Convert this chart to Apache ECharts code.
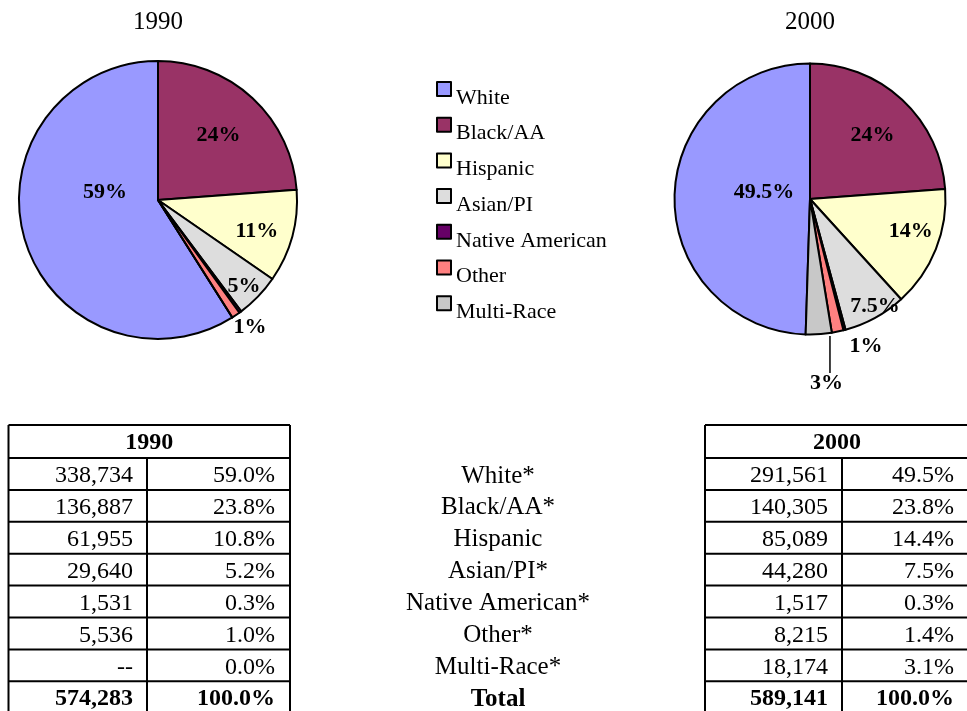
<!DOCTYPE html>
<html><head><meta charset="utf-8">
<script src="https://cdn.jsdelivr.net/npm/echarts@6/dist/echarts.min.js"></script>
<style>html,body{margin:0;padding:0;background:#fff}#c{width:967px;height:711px}</style>
</head><body><div id="c"></div>
<script>
// ---------- data ----------
const categories = ['White', 'Black/AA', 'Hispanic', 'Asian/PI', 'Native American', 'Other', 'Multi-Race'];
const tableRowLabels = ['White*', 'Black/AA*', 'Hispanic', 'Asian/PI*', 'Native American*', 'Other*', 'Multi-Race*'];
const totalLabel = 'Total';
const years = ['1990', '2000'];
const counts1990 = [338734, 136887, 61955, 29640, 1531, 5536, null];
const counts2000 = [291561, 140305, 85089, 44280, 1517, 8215, 18174];
const pieLabels1990 = ['59%', '24%', '11%', '5%', '', '1%', ''];
const pieLabels2000 = ['49.5%', '24%', '14%', '7.5%', '', '1%', '3%'];

// ---------- style ----------
const colors = ['#9999FF', '#993366', '#FFFFCC', '#DDDDDD', '#660066', '#FF8080', '#C8C8C8'];
const FAMILY = 'Liberation Serif';
const FONT = "'Liberation Serif', serif";
const pieGeom = [{ cx: 158, cy: 200, r: 139 }, { cx: 810, cy: 199, r: 135.5 }];
// label placement: [fraction of radius, angle tweak in degrees]
const labelPlace = [
  [[0.385, -24.8], [0.64, 0], [0.745, -2.2], [0.875, -1], null, [1.128, 1.8], null],
  [[0.343, -7.8], [0.66, -1.4], [0.78, 4.1], [0.924, 2.6], null, [1.16, 9.1], [1.363, 1.4]]
];
const leaderFor = [[], [6]]; // items drawn with a leader line

const allCounts = [counts1990, counts2000];
const allLabels = [pieLabels1990, pieLabels2000];

function sum(a) { return a.reduce((s, v) => s + (v || 0), 0); }

function midAngles(vals, start) {
  const tot = sum(vals);
  let a = start;
  return vals.map(v => {
    const span = (v || 0) / tot * 360;
    const m = a - span / 2;
    a -= span;
    return m;
  });
}

const series = allCounts.map((vals, si) => {
  const tot = sum(vals);
  const start = 90 + (vals[0] || 0) / tot * 360;
  const mids = midAngles(vals, start);
  const g = pieGeom[si];
  const labels = allLabels[si];
  return {
    type: 'pie',
    name: years[si],
    center: [g.cx, g.cy],
    radius: g.r,
    startAngle: start,
    clockwise: true,
    avoidLabelOverlap: false,
    animation: false,
    emphasis: { disabled: true },
    itemStyle: { borderColor: '#000', borderWidth: 2 },
    label: {
      show: true, position: 'inside',
      fontFamily: FAMILY, fontSize: 22, fontWeight: 'bold', color: '#000',
      formatter: p => labels[p.dataIndex]
    },
    labelLine: { show: false },
    data: vals.map((v, i) => {
      const item = { name: categories[i], value: v || 0, itemStyle: { color: colors[i] } };
      item.label = { show: !!labels[i] };
      if (leaderFor[si].indexOf(i) >= 0) {
        item.label.position = 'outside';
        item.labelLine = { show: true, length: 10, length2: 0, lineStyle: { color: '#000', width: 1.5 } };
      }
      return item;
    }),
    labelLayout: function (p) {
      const pl = labelPlace[si][p.dataIndex];
      if (!pl) return {};
      const a = (mids[p.dataIndex] + pl[1]) * Math.PI / 180;
      const d = pl[0] * g.r;
      const x = g.cx + d * Math.cos(a);
      const y = g.cy - d * Math.sin(a);
      const res = { x: x, y: y, align: 'center', verticalAlign: 'middle' };
      if (leaderFor[si].indexOf(p.dataIndex) >= 0) {
        const lx = x + 3.5;
        const y1 = g.cy + Math.sqrt(g.r * g.r - (lx - g.cx) * (lx - g.cx)) + 3;
        const y2 = y - p.labelRect.height / 2 + 1;
        res.labelLinePoints = [[lx, y1], [lx, (y1 + y2) / 2], [lx, y2]];
      }
      return res;
    }
  };
});

// ---------- tables (graphic) ----------
function fmtCount(v) { return v == null ? '--' : v.toLocaleString('en-US'); }
function fmtPct(v, tot) { return ((v || 0) / tot * 100).toFixed(1) + '%'; }

const tableGeom = [{ x0: 8.5, xd: 147, x1: 290 }, { x0: 705, xd: 842, x1: 969 }];
const tTop = 425, headH = 33, rowH = 31.9;
const graphics = [];

// titles
years.forEach((yr, i) => {
  graphics.push({ type: 'text', x: pieGeom[i].cx, y: 22, style: { text: yr, font: '25px ' + FONT, fill: '#000', align: 'center', verticalAlign: 'middle' } });
});

allCounts.forEach((vals, ti) => {
  const tg = tableGeom[ti];
  const tot = sum(vals);
  const nRows = vals.length + 1;
  const bottom = tTop + headH + nRows * rowH;
  const line = (x1, y1, x2, y2) => graphics.push({ type: 'line', shape: { x1, y1, x2, y2 }, style: { stroke: '#000', lineWidth: 2 } });
  line(tg.x0, tTop, tg.x1, tTop);
  line(tg.x0, tTop, tg.x0, bottom);
  line(tg.x1, tTop, tg.x1, bottom);
  line(tg.xd, tTop + headH, tg.xd, bottom);
  for (let r = 0; r <= nRows; r++) {
    const y = tTop + headH + r * rowH;
    line(tg.x0, y, tg.x1, y);
  }
  graphics.push({ type: 'text', x: (tg.x0 + tg.x1) / 2, y: tTop + headH / 2 + 1, style: { text: years[ti], font: 'bold 24px ' + FONT, fill: '#000', align: 'center', verticalAlign: 'middle' } });
  const rows = vals.map(v => [fmtCount(v), fmtPct(v, tot), false]);
  rows.push([fmtCount(tot), '100.0%', true]);
  rows.forEach((row, r) => {
    const yc = tTop + headH + r * rowH + rowH / 2 + 2;
    const f = (row[2] ? 'bold ' : '') + '24px ' + FONT;
    graphics.push({ type: 'text', x: tg.xd - 14, y: yc, style: { text: row[0], font: f, fill: '#000', align: 'right', verticalAlign: 'middle' } });
    graphics.push({ type: 'text', x: tg.x1 - 15, y: yc, style: { text: row[1], font: f, fill: '#000', align: 'right', verticalAlign: 'middle' } });
  });
});

// middle row labels
tableRowLabels.concat([totalLabel]).forEach((t, r) => {
  const yc = tTop + headH + r * rowH + rowH / 2 + 2;
  const bold = r === tableRowLabels.length;
  graphics.push({ type: 'text', x: 498, y: yc, style: { text: t, font: (bold ? 'bold ' : '') + '25px ' + FONT, fill: '#000', align: 'center', verticalAlign: 'middle' } });
});

const chart = echarts.init(document.getElementById('c'), null, { renderer: 'canvas' });
chart.setOption({
  backgroundColor: '#fff',
  animation: false,
  color: colors,
  legend: {
    orient: 'vertical', left: 436, top: 81, padding: 0,
    itemWidth: 14, itemHeight: 14, itemGap: 7.7,
    icon: 'rect', selectedMode: false,
    data: categories,
    itemStyle: { borderColor: '#000', borderWidth: 2 },
    formatter: '{t|{name}}',
    textStyle: {
      fontFamily: FAMILY, fontSize: 22, color: '#000',
      rich: { t: { fontFamily: FAMILY, fontSize: 22, color: '#000', padding: [18, 0, 0, 0] } }
    }
  },
  series: series,
  graphic: { elements: graphics }
});
</script>
</body></html>
